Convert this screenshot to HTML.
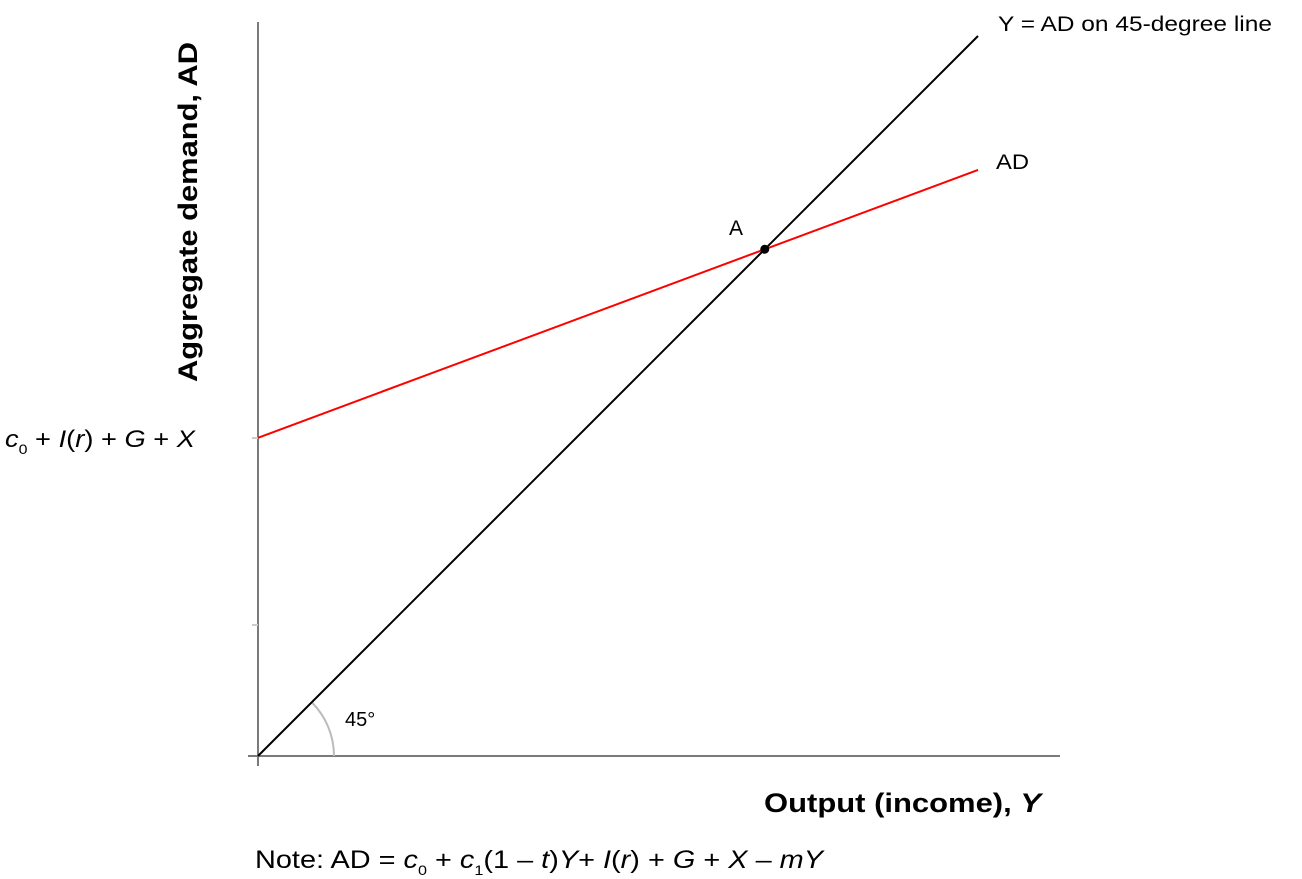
<!DOCTYPE html>
<html><head><meta charset="utf-8"><style>
html,body{margin:0;padding:0;background:#fff;}
svg{display:block;font-family:"Liberation Sans",sans-serif;}
</style></head><body>
<svg id="chart" width="1302" height="879" viewBox="0 0 1302 879">
<g id="axes">
<line x1="258" y1="22" x2="258" y2="766" stroke="#7a7a7a" stroke-width="2"/>
<line x1="248" y1="756" x2="1060" y2="756" stroke="#7a7a7a" stroke-width="2"/>
<line x1="252" y1="438" x2="258" y2="438" stroke="#ccc" stroke-width="2"/>
<line x1="252" y1="625" x2="258" y2="625" stroke="#ccc" stroke-width="2"/>
</g>
<g id="marks"></g>
<text transform="translate(197,212) rotate(-90)" text-anchor="middle" font-size="27" font-weight="bold" textLength="340" lengthAdjust="spacingAndGlyphs">Aggregate demand, AD</text>
<text x="764" y="812" font-size="27" font-weight="bold" textLength="277" lengthAdjust="spacingAndGlyphs">Output (income), <tspan font-style="italic">Y</tspan></text>
<text x="5" y="447" font-size="24" textLength="190" lengthAdjust="spacingAndGlyphs"><tspan font-style="italic">c</tspan><tspan font-size="14" dy="7">0</tspan><tspan dy="-7"> + </tspan><tspan font-style="italic">I</tspan>(<tspan font-style="italic">r</tspan>) + <tspan font-style="italic">G</tspan> + <tspan font-style="italic">X</tspan></text>
<text x="998" y="31" font-size="21" textLength="274" lengthAdjust="spacingAndGlyphs">Y = AD on 45-degree line</text>
<text x="996" y="169" font-size="21" textLength="33" lengthAdjust="spacingAndGlyphs">AD</text>
<text x="729" y="235" font-size="21">A</text>
<text x="345" y="726" font-size="20">45°</text>
<text x="255" y="868" font-size="25" textLength="568" lengthAdjust="spacingAndGlyphs">Note: AD = <tspan font-style="italic">c</tspan><tspan font-size="14" dy="7">0</tspan><tspan dy="-7"> + </tspan><tspan font-style="italic">c</tspan><tspan font-size="14" dy="7">1</tspan><tspan dy="-7">(1 – </tspan><tspan font-style="italic">t</tspan>)<tspan font-style="italic">Y</tspan>+  <tspan font-style="italic">I</tspan>(<tspan font-style="italic">r</tspan>) + <tspan font-style="italic">G</tspan> + <tspan font-style="italic">X</tspan> – <tspan font-style="italic">mY</tspan></text>
</svg>
<script>
const xDomain = [0, 100];
const lineY45 = [0, 100];
const adIntercept = [44.2];
const adEnd = [81.4];
const NS = 'http://www.w3.org/2000/svg';
const ox = 258, oy = 756, unit = 7.2;
function sx(v){return ox + v*unit;}
function sy(v){return oy - v*unit;}
const g = document.getElementById('marks');
function line(x1,y1,x2,y2,color,name){
  const l = document.createElementNS(NS,'line');
  l.setAttribute('x1',sx(x1));l.setAttribute('y1',sy(y1));
  l.setAttribute('x2',sx(x2));l.setAttribute('y2',sy(y2));
  l.setAttribute('stroke',color);l.setAttribute('stroke-width','2');
  
  
  g.appendChild(l);
}
const r = 76;
const arc = document.createElementNS(NS,'path');
arc.setAttribute('d','M'+(ox+r)+','+oy+' A'+r+','+r+' 0 0 0 '+(ox+r*Math.SQRT1_2)+','+(oy-r*Math.SQRT1_2));
arc.setAttribute('fill','none');arc.setAttribute('stroke','#bbb');arc.setAttribute('stroke-width','2');


g.appendChild(arc);
line(xDomain[0], lineY45[0], xDomain[1], lineY45[1], '#000', 'line-45-degree');
line(xDomain[0], adIntercept[0], xDomain[1], adEnd[0], '#f00', 'ad-line');
const slope = (adEnd[0]-adIntercept[0])/(xDomain[1]-xDomain[0]);
const xe = adIntercept[0]/(1-slope);
const c = document.createElementNS(NS,'circle');
c.setAttribute('cx',sx(xe));c.setAttribute('cy',sy(xe));c.setAttribute('r','4.5');c.setAttribute('fill','#000');


g.appendChild(c);
</script>
</body></html>
